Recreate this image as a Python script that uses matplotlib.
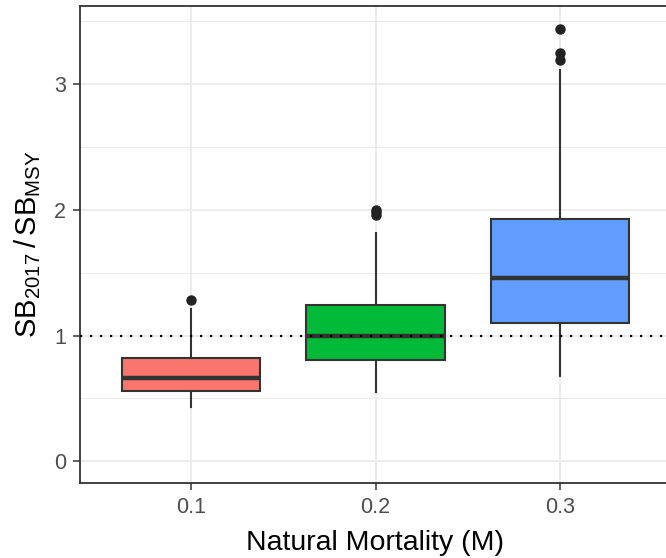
import matplotlib
matplotlib.use("Agg")
import matplotlib.pyplot as plt
from matplotlib.ticker import MultipleLocator

# Box statistics
labels = ['0.1', '0.2', '0.3']
colors = ['#F8766D', '#00BA38', '#619CFF']
q1 = [0.556, 0.81, 1.10]
med = [0.66, 1.00, 1.46]
q3 = [0.825, 1.246, 1.93]
whislo = [0.43, 0.55, 0.68]
whishi = [1.21, 1.82, 3.11]
fliers = [[1.28], [1.96, 1.98, 2.0], [3.19, 3.25, 3.44]]
ref_line = 1.0

plt.rcParams['font.family'] = ['Liberation Sans', 'DejaVu Sans']
plt.rcParams['mathtext.fontset'] = 'custom'
plt.rcParams['mathtext.rm'] = 'Liberation Sans'

fig = plt.figure(figsize=(6.66, 5.58), dpi=100)
ax = fig.add_axes([80 / 666, 75 / 558, 591 / 666, 477 / 558])

stats = []
for i in range(len(labels)):
    stats.append(dict(med=med[i], q1=q1[i], q3=q3[i], whislo=whislo[i],
                      whishi=whishi[i], fliers=fliers[i], label=labels[i]))

bp = ax.bxp(stats, positions=[1, 2, 3], widths=0.75, patch_artist=True,
            showcaps=False,
            boxprops=dict(edgecolor='#333333', linewidth=1.5),
            whiskerprops=dict(color='#333333', linewidth=1.5),
            medianprops=dict(color='#333333', linewidth=3.2),
            flierprops=dict(marker='o', markerfacecolor='#222222',
                            markeredgecolor='#222222', markersize=6.5))
for patch, c in zip(bp['boxes'], colors):
    patch.set_facecolor(c)
    patch.set_zorder(3)
for key in ['whiskers', 'medians', 'fliers']:
    for art in bp[key]:
        art.set_zorder(3)

ax.axhline(ref_line, color='black', linestyle=(0, (1, 3.5)), linewidth=1.6, zorder=4)

ax.set_xlim(0.4, 3.6)
ax.set_ylim(-0.1725, 3.6225)
ax.yaxis.set_major_locator(MultipleLocator(1))
ax.yaxis.set_minor_locator(MultipleLocator(0.5))
ax.set_xticks([1, 2, 3])
ax.set_xticklabels(labels)

ax.grid(which='major', color='#EBEBEB', linewidth=1.3, zorder=0)
ax.grid(which='minor', axis='y', color='#EBEBEB', linewidth=0.7, zorder=0)
ax.set_axisbelow(True)
ax.tick_params(which='minor', length=0)
ax.tick_params(which='major', length=5, width=1.1, color='#333333',
               labelcolor='#4D4D4D', labelsize=15.5, pad=5)

for s in ax.spines.values():
    s.set_color('#333333')
    s.set_linewidth(1.3)

ax.set_xlabel('Natural Mortality (M)', fontsize=20.5, color='black', labelpad=9)
ax.set_ylabel(r'$\mathregular{SB_{2017}\,/\,SB_{MSY}}$', fontsize=21, color='black', labelpad=8)

fig.savefig('out.png', dpi=100)
